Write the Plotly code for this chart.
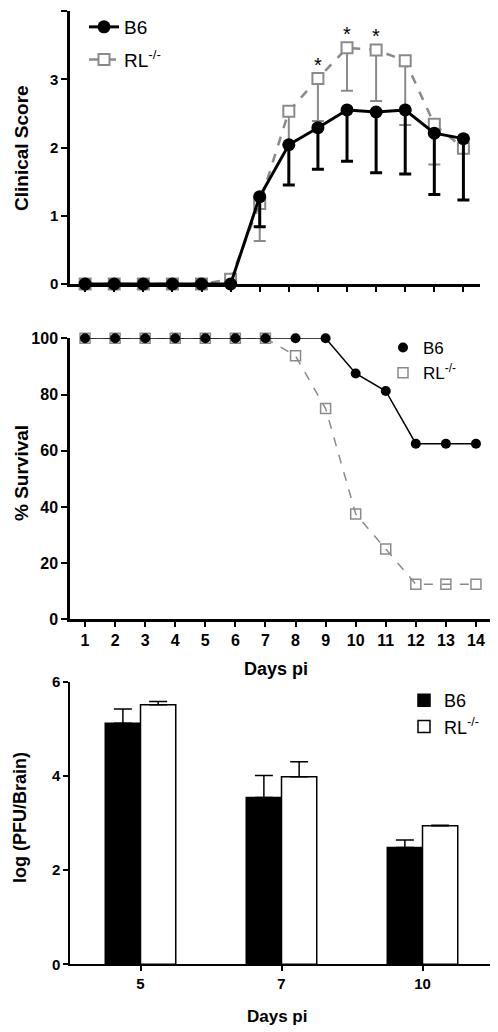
import plotly.graph_objects as go

# ---------------- data ----------------
days = list(range(1, 15))
score_b6 = [0, 0, 0, 0, 0, 0, 1.28, 2.04, 2.29, 2.55, 2.52, 2.55, 2.21, 2.13]
score_b6_err = [0, 0, 0, 0, 0, 0, 0.44, 0.59, 0.61, 0.75, 0.89, 0.94, 0.90, 0.90]
score_rl = [0, 0, 0, 0, 0, 0.07, 1.18, 2.53, 3.01, 3.46, 3.43, 3.27, 2.34, 1.99]
score_rl_err = [0, 0, 0, 0, 0, 0, 0.55, 0.49, 0.62, 0.63, 0.75, 0.94, 0.59, 0.05]
sig_days = [9, 10, 11]

surv_b6 = [100, 100, 100, 100, 100, 100, 100, 100, 100, 87.5, 81.25, 62.5, 62.5, 62.5]
surv_rl = [100, 100, 100, 100, 100, 100, 100, 93.75, 75, 37.5, 25, 12.5, 12.5, 12.5]

pfu_days = ['5', '7', '10']
pfu_b6 = [5.12, 3.54, 2.48]
pfu_b6_err = [0.30, 0.47, 0.16]
pfu_rl = [5.51, 3.98, 2.94]
pfu_rl_err = [0.07, 0.32, 0.01]

name_b6 = 'B6'
name_rl = 'RL<sup>-/-</sup>'

# ---------------- styling ----------------
# the page body has an 8px margin, so the figure is drawn 8px in from the window edge
OFF = 8
W, H = 498 - OFF, 1032 - OFF
FONT = 'Liberation Sans, Arial, sans-serif'
BLACK = '#000000'
GRAY = '#8a8a8a'


def px_x(p):
    return (p - OFF) / W


def px_y(p):
    return 1 - (p - OFF) / H


fig = go.Figure()

# ---- top panel: clinical score ----
fig.add_trace(go.Scatter(
    x=days, y=score_rl, name=name_rl, mode='lines+markers',
    line=dict(color=GRAY, width=2.5, dash='dash'),
    marker=dict(symbol='square', size=11, color='white', line=dict(color=GRAY, width=2)),
    error_y=dict(type='data', visible=True, symmetric=False, array=[0] * len(score_rl),
                 arrayminus=score_rl_err, color=GRAY, thickness=2, width=6),
    xaxis='x', yaxis='y', legend='legend', legendgroup='t_rl', legendrank=2,
    cliponaxis=False))
fig.add_trace(go.Scatter(
    x=days, y=score_b6, name=name_b6, mode='lines+markers',
    line=dict(color=BLACK, width=3),
    marker=dict(symbol='circle', size=13, color=BLACK),
    error_y=dict(type='data', visible=True, symmetric=False, array=[0] * len(score_b6),
                 arrayminus=score_b6_err, color=BLACK, thickness=3, width=6),
    xaxis='x', yaxis='y', legend='legend', legendgroup='t_b6', legendrank=1,
    cliponaxis=False))

# ---- middle panel: survival ----
fig.add_trace(go.Scatter(
    x=days, y=surv_rl, mode='lines', showlegend=False,
    line=dict(color=GRAY, width=1.5, dash='dash'),
    xaxis='x2', yaxis='y2', cliponaxis=False))
fig.add_trace(go.Scatter(
    x=days, y=surv_rl, name=name_rl, mode='markers',
    marker=dict(symbol='square-open', size=10, color=GRAY, line=dict(color=GRAY, width=1.5)),
    xaxis='x2', yaxis='y2', legend='legend2', legendgroup='m_rl', legendrank=2,
    cliponaxis=False))
fig.add_trace(go.Scatter(
    x=days, y=surv_b6, mode='lines', showlegend=False,
    line=dict(color=BLACK, width=1.5),
    xaxis='x2', yaxis='y2', cliponaxis=False))
fig.add_trace(go.Scatter(
    x=days, y=surv_b6, name=name_b6, mode='markers',
    marker=dict(symbol='circle', size=10, color=BLACK),
    xaxis='x2', yaxis='y2', legend='legend2', legendgroup='m_b6', legendrank=1,
    cliponaxis=False))

# ---- bottom panel: viral titres ----
fig.add_trace(go.Bar(
    x=pfu_days, y=pfu_b6, name=name_b6,
    marker=dict(color=BLACK, line=dict(color=BLACK, width=1.5)),
    error_y=dict(type='data', visible=True, symmetric=False, array=pfu_b6_err,
                 arrayminus=[0] * len(pfu_b6), color=BLACK, thickness=1.5, width=9),
    xaxis='x3', yaxis='y3', legend='legend3', legendgroup='b_b6', legendrank=1))
fig.add_trace(go.Bar(
    x=pfu_days, y=pfu_rl, name=name_rl,
    marker=dict(color='white', line=dict(color=BLACK, width=1.5)),
    error_y=dict(type='data', visible=True, symmetric=False, array=pfu_rl_err,
                 arrayminus=[0] * len(pfu_rl), color=BLACK, thickness=1.5, width=9),
    xaxis='x3', yaxis='y3', legend='legend3', legendgroup='b_rl', legendrank=2))

tick_bold = dict(family=FONT, size=15, color=BLACK, weight='bold')
tick_bold16 = dict(family=FONT, size=16, color=BLACK, weight='bold')

common = dict(showgrid=False, zeroline=False, showline=True, linecolor=BLACK,
              ticks='outside', tickcolor=BLACK, automargin=False)

annotations = []
# significance asterisks
for d in sig_days:
    annotations.append(dict(x=d, y=score_rl[days.index(d)], xref='x', yref='y', text='*',
                            showarrow=False, yshift=14, font=dict(family=FONT, size=20, color=BLACK)))

# axis titles
annotations += [
    dict(x=px_x(21), y=px_y(148), xref='paper', yref='paper', text='Clinical Score', textangle=-90,
         showarrow=False, xanchor='center', yanchor='middle',
         font=dict(family=FONT, size=19, color=BLACK, weight='bold')),
    dict(x=px_x(21), y=px_y(473), xref='paper', yref='paper', text='% Survival', textangle=-90,
         showarrow=False, xanchor='center', yanchor='middle',
         font=dict(family=FONT, size=19, color=BLACK, weight='bold')),
    dict(x=px_x(276), y=px_y(669), xref='paper', yref='paper', text='Days pi',
         showarrow=False, xanchor='center', yanchor='middle',
         font=dict(family=FONT, size=18, color=BLACK, weight='bold')),
    dict(x=px_x(20), y=px_y(818), xref='paper', yref='paper', text='log (PFU/Brain)', textangle=-90,
         showarrow=False, xanchor='center', yanchor='middle',
         font=dict(family=FONT, size=18, color=BLACK, weight='bold')),
    dict(x=px_x(277), y=px_y(1016), xref='paper', yref='paper', text='Days pi',
         showarrow=False, xanchor='center', yanchor='middle',
         font=dict(family=FONT, size=17, color=BLACK, weight='bold')),
]

fig.update_layout(
    width=W, height=H,
    margin=dict(l=0, r=0, t=0, b=0, autoexpand=False),
    paper_bgcolor='white', plot_bgcolor='white',
    font=dict(family=FONT, color=BLACK),
    barmode='group', bargap=0.5, bargroupgap=0,
    annotations=annotations,
    xaxis=dict(domain=[px_x(70), px_x(480)], range=[0.48, 14.57], anchor='y',
               tickvals=days, showticklabels=False, ticklen=5, tickwidth=2, linewidth=2.5, **common),
    yaxis=dict(domain=[px_y(284), px_y(11)], range=[0, 4], anchor='x', dtick=1,
               ticklen=6, tickwidth=2, linewidth=2.5, tickfont=tick_bold, **common),
    xaxis2=dict(domain=[px_x(70), px_x(491)], range=[0.5, 14.5], anchor='y2',
                tickvals=days, ticklen=5, tickwidth=2, linewidth=2.5, tickfont=tick_bold16, **common),
    yaxis2=dict(domain=[px_y(619.3), px_y(338.3)], range=[0, 100], anchor='x2', dtick=20,
                ticklen=6, tickwidth=2, linewidth=2.5, tickfont=tick_bold16, **common),
    xaxis3=dict(domain=[px_x(70), px_x(493)], range=[-0.5, 2.5], anchor='y3', type='category',
                ticklen=5, tickwidth=1.5, linewidth=1.5, tickfont=tick_bold, **common),
    yaxis3=dict(domain=[px_y(964.3), px_y(681.7)], range=[0, 6], anchor='x3', dtick=2,
                ticklen=5, tickwidth=1.5, linewidth=1.5, tickfont=tick_bold, **common),
    legend=dict(x=px_x(84), y=px_y(8), xanchor='left', yanchor='top', bgcolor='rgba(0,0,0,0)',
                font=dict(family=FONT, size=19, color=BLACK), tracegroupgap=5, borderwidth=0),
    legend2=dict(x=px_x(383), y=px_y(330), xanchor='left', yanchor='top', bgcolor='rgba(0,0,0,0)',
                 font=dict(family=FONT, size=17, color=BLACK), tracegroupgap=0, borderwidth=0),
    legend3=dict(x=px_x(404), y=px_y(682), xanchor='left', yanchor='top', bgcolor='rgba(0,0,0,0)',
                 font=dict(family=FONT, size=18, color=BLACK), tracegroupgap=0, borderwidth=0),
)

fig.write_html('out.html')
